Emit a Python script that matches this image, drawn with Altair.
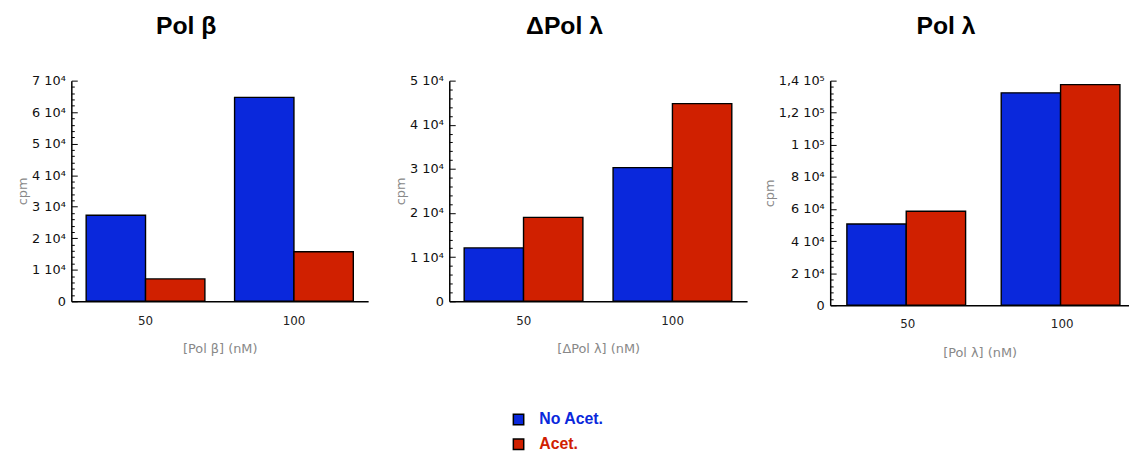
import altair as alt
import pandas as pd

concs = ["50", "100"]
conds = ["No Acet.", "Acet."]
colors = ["#0a28dc", "#d02000"]

titles = ["Pol β", "ΔPol λ", "Pol λ"]
xtitles = ["[Pol β] (nM)", "[ΔPol λ] (nM)", "[Pol λ] (nM)"]

# values: [No Acet. 50, Acet. 50, No Acet. 100, Acet. 100]
polb_vals = [27300, 7100, 64700, 15700]
dpoll_vals = [12100, 19000, 30300, 44800]
poll_vals = [50600, 58600, 132400, 137500]

ymaxes = [70000, 50000, 140000]
major_steps = [10000, 10000, 20000]
minor_steps = [2000, 2000, 4000]

label_exprs = [
    "datum.value == 0 ? '0' : format(datum.value/10000, 'd') + ' 10⁴'",
    "datum.value == 0 ? '0' : format(datum.value/10000, 'd') + ' 10⁴'",
    "datum.value == 0 ? '0' : (datum.value >= 100000 ? replace(format(datum.value/100000, '.1~f'), '.', ',') + ' 10⁵' : format(datum.value/10000, 'd') + ' 10⁴')",
]

AXFONT = "DejaVu Sans"


def panel(title, xtitle, vals, ymax, major, minor, width, height, lexpr, xscale):
    rows = []
    i = 0
    for c in concs:
        for k in conds:
            rows.append({"conc": c, "cond": k, "cpm": vals[i]})
            i += 1
    df = pd.DataFrame(rows)
    major_vals = list(range(0, ymax + 1, major))
    minor_vals = list(range(0, ymax + 1, minor))
    base = alt.Chart(df).encode(
        x=alt.X(
            "conc:N",
            sort=concs,
            scale=xscale,
            axis=alt.Axis(
                title=xtitle,
                labelAngle=0,
                ticks=False,
                domainColor="black",
                domainWidth=1.5,
                labelPadding=14,
                labelFont=AXFONT,
                labelFontSize=12,
                labelColor="#222222",
                titleFont=AXFONT,
                titleFontSize=13,
                titleFontWeight="normal",
                titleColor="#888888",
                titlePadding=17,
            ),
        ),
        xOffset=alt.XOffset("cond:N", sort=conds, scale=alt.Scale(paddingInner=0, paddingOuter=0)),
        color=alt.Color("cond:N", scale=alt.Scale(domain=conds, range=colors), legend=None),
    )
    yscale = alt.Scale(domain=[0, ymax], nice=False, zero=True)
    bars = base.mark_bar(stroke="black", strokeWidth=1.4).encode(
        y=alt.Y(
            "cpm:Q",
            scale=yscale,
            axis=alt.Axis(
                title="cpm",
                values=major_vals,
                ticks=False,
                grid=False,
                labelExpr=lexpr,
                labelFont=AXFONT,
                labelFontSize=13,
                labelColor="#111111",
                labelPadding=6,
                domainColor="black",
                domainWidth=1.5,
                titleFont=AXFONT,
                titleFontSize=13,
                titleFontWeight="normal",
                titleColor="#888888",
                titlePadding=2,
            ),
        )
    )
    tick_layer = base.mark_bar(opacity=0).encode(
        y=alt.Y(
            "cpm:Q",
            scale=yscale,
            axis=alt.Axis(
                orient="right",
                offset=-width,
                values=minor_vals,
                labels=False,
                domain=False,
                grid=False,
                title=None,
                tickColor="black",
                tickWidth=1,
                tickSize={"condition": {"test": f"datum.value % {major} === 0", "value": 6}, "value": 3},
            ),
        )
    )
    return (
        alt.layer(bars, tick_layer)
        .resolve_axis(y="independent")
        .properties(
            width=width,
            height=height,
            title=alt.TitleParams(
                text=title,
                font="Liberation Sans",
                fontSize=25,
                fontWeight="bold",
                color="black",
                anchor="middle",
                dx=-34,
                offset=36,
            ),
        )
    )


std_x = alt.Scale(paddingInner=0.2, paddingOuter=0.1)
p3_x = alt.Scale(paddingInner=0.21, paddingOuter=0.073, align=0.74)

p1 = panel(titles[0], xtitles[0], polb_vals, ymaxes[0], major_steps[0], minor_steps[0], 300, 223, label_exprs[0], std_x)
p2 = panel(titles[1], xtitles[1], dpoll_vals, ymaxes[1], major_steps[1], minor_steps[1], 301, 223, label_exprs[1], std_x)
p3 = panel(titles[2], xtitles[2], poll_vals, ymaxes[2], major_steps[2], minor_steps[2], 302, 227, label_exprs[2], p3_x)

row = alt.hconcat(alt.hconcat(p1, p2, spacing=26), p3, spacing=16)

leg_df = pd.DataFrame({"cond": conds})
leg_color = alt.Color("cond:N", scale=alt.Scale(domain=conds, range=colors), legend=None)
leg_y = alt.Y("cond:N", sort=conds, axis=None, scale=alt.Scale(paddingInner=0, paddingOuter=0))
sq = alt.Chart(leg_df).mark_square(size=110, stroke="black", strokeWidth=1.5, opacity=1).encode(
    y=leg_y, x=alt.value(6), color=leg_color
)
txt = alt.Chart(leg_df).mark_text(
    align="left", baseline="middle", font="Liberation Sans", fontSize=16, fontWeight="bold"
).encode(y=leg_y, x=alt.value(27), text="cond:N", color=leg_color)
legend = alt.layer(sq, txt).properties(width=177, height=50)

chart = (
    alt.vconcat(row, legend, spacing=48, center=True)
    .properties(padding={"left": 8, "top": 4, "right": 0, "bottom": 0})
    .configure_view(strokeWidth=0)
)

chart.save("out.html", embed_options={"renderer": "svg", "actions": False})
